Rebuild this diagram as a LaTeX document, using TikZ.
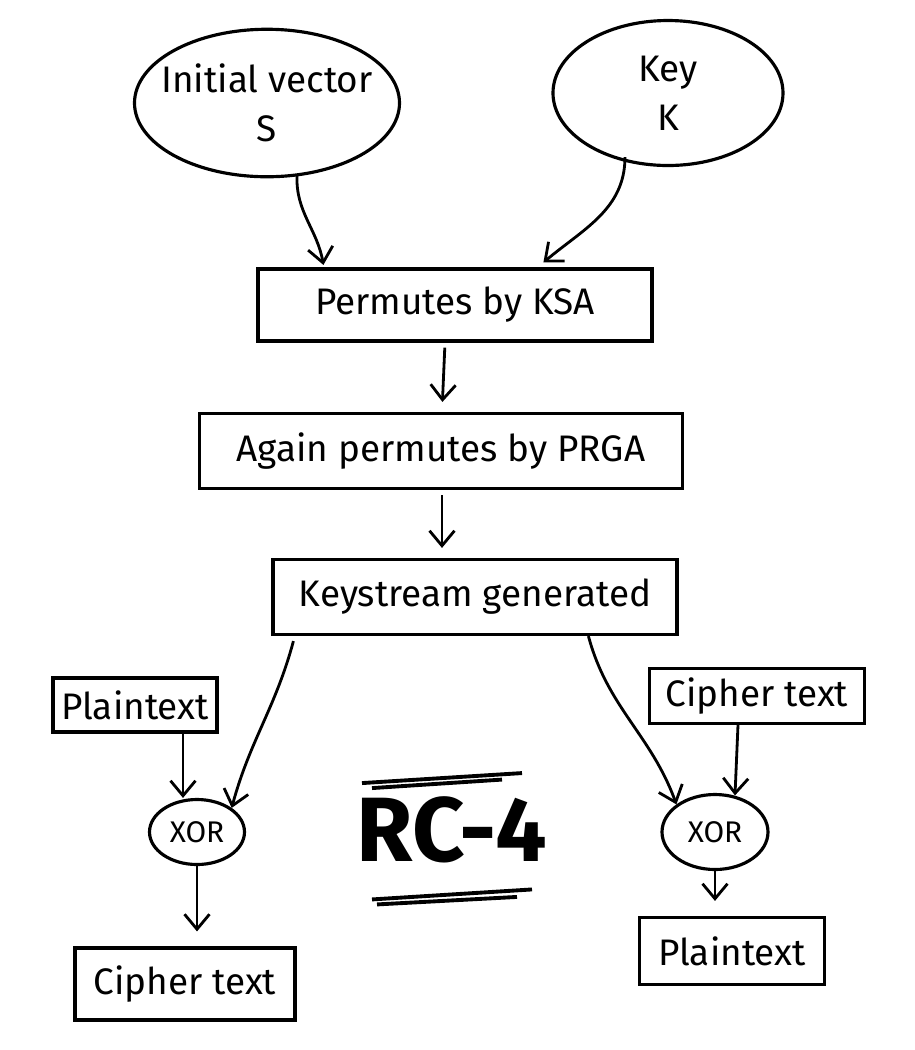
\documentclass[tikz,border=0pt]{standalone}
\usepackage{fontspec}
\setmainfont{Fira Sans}
\usetikzlibrary{shapes.geometric,arrows.meta,calc}
\tikzset{
  ink/.style={line width=1.8pt, black},
  boxnode/.style={ink, draw, rectangle, inner sep=0pt, font=\fontsize{21}{24}\selectfont},
  blob/.style={ink, draw, ellipse, inner xsep=-0.25cm, inner ysep=0.1cm, align=center, font=\fontsize{21}{28}\selectfont},
  xornode/.style={ink, draw, ellipse, inner sep=0pt, font=\fontsize{17}{20}\selectfont},
  conn/.style={ink, line width=1.6pt, -{Straight Barb[length=3mm,width=5mm,line width=1.6pt]}},
  underline/.style={line width=2.2pt, black}
}
\begin{document}
\begin{tikzpicture}
\useasboundingbox[fill=white] (0,0) rectangle (18.3,-21);
% ellipses
\node[blob, minimum width=5.3cm, minimum height=2.95cm] (S) at (5.34,-2.06) {Initial vector\\S};
\node[blob, minimum width=4.6cm, minimum height=2.9cm] (K) at (13.36,-1.86) {Key\\K};
% boxes
\node[boxnode, minimum width=7.88cm, minimum height=1.44cm] (ksa) at (9.1,-6.1) {Permutes by KSA};
\node[boxnode, minimum width=9.66cm, minimum height=1.5cm] (prga) at (8.82,-9.02) {Again permutes by PRGA};
\node[boxnode, minimum width=8.08cm, minimum height=1.5cm] (ks) at (9.5,-11.94) {Keystream generated};
\node[boxnode, minimum width=3.28cm, minimum height=1.08cm] (pt1) at (2.7,-14.1) {Plaintext};
\node[boxnode, minimum width=4.3cm, minimum height=1.1cm] (ct1) at (15.14,-13.92) {Cipher text};
\node[xornode, minimum width=1.9cm, minimum height=1.3cm] (xor1) at (3.94,-16.64) {XOR};
\node[xornode, minimum width=2.12cm, minimum height=1.5cm] (xor2) at (14.3,-16.64) {XOR};
\node[boxnode, minimum width=4.4cm, minimum height=1.44cm] (ct2) at (3.7,-19.68) {Cipher text};
\node[boxnode, minimum width=3.7cm, minimum height=1.34cm] (pt2) at (14.64,-19.02) {Plaintext};
% title
\node[font=\fontsize{52}{56}\selectfont\bfseries] (title) at (9.04,-16.6) {RC-4};
\draw[underline] ($(title.north)+(-1.8,0.15)$) -- ($(title.north)+(1.4,0.35)$);
\draw[underline] ($(title.north)+(-1.6,0.05)$) -- ($(title.north)+(1.0,0.22)$);
\draw[underline] ($(title.south)+(-1.6,-0.6)$) -- ($(title.south)+(1.6,-0.4)$);
\draw[underline] ($(title.south)+(-1.5,-0.7)$) -- ($(title.south)+(1.3,-0.55)$);
% connectors
\draw[conn] ($(S.south)+(0.6,0.05)$) to[out=-92,in=100] ($(ksa.north west)+(1.34,0.05)$);
\draw[conn] ($(K.south)+(-0.86,0.2)$) to[out=-90,in=40] ($(ksa.north west)+(5.74,0.1)$);
\draw[conn, shorten <=0.1cm, shorten >=0.2cm] (ksa.south -| 8.9,0) -- (prga.north -| 8.84,0);
\draw[conn, shorten <=0.1cm, shorten >=0.2cm] (prga.south -| 8.84,0) -- (ks.north -| 8.84,0);
\draw[conn] ($(ks.south west)+(0.44,-0.1)$) to[out=-105,in=75] (xor1.north east);
\draw[conn] ($(ks.south west)+(6.34,0)$) to[out=-75,in=110] (xor2.north west);
\draw[conn] (pt1.south -| 3.66,0) -- (xor1.north -| 3.66,0);
\draw[conn] (ct1.south -| 14.76,0) -- ($(xor2.north)+(0.4,-0.05)$);
\draw[conn, shorten >=0.3cm] (xor1.south) -- (ct2.north -| xor1.south);
\draw[conn, shorten >=0.3cm] (xor2.south) -- (pt2.north -| xor2.south);
\end{tikzpicture}
\end{document}
